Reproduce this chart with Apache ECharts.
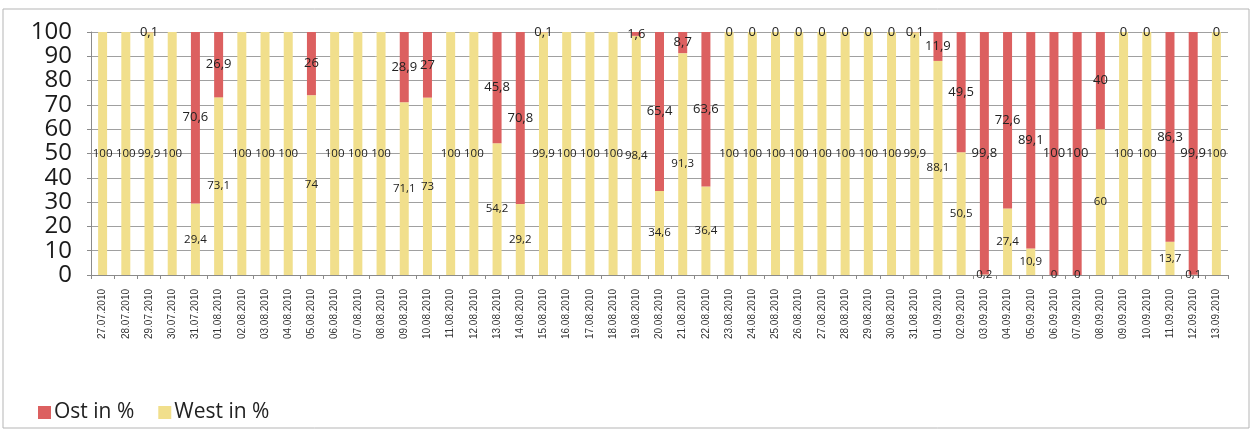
<!DOCTYPE html>
<html>
<head>
<meta charset="utf-8">
<script src="https://cdn.jsdelivr.net/npm/echarts@6/dist/echarts.min.js"></script>
<style>
  html, body { margin: 0; padding: 0; background: #fff; }
  #chart { width: 1258px; height: 440px; }
</style>
</head>
<body>
<div id="chart"></div>
<script>
// Tagesdaten 27.07.2010 – 13.09.2010
const dates = [
  '27.07.2010','28.07.2010','29.07.2010','30.07.2010','31.07.2010',
  '01.08.2010','02.08.2010','03.08.2010','04.08.2010','05.08.2010','06.08.2010','07.08.2010',
  '08.08.2010','09.08.2010','10.08.2010','11.08.2010','12.08.2010','13.08.2010','14.08.2010',
  '15.08.2010','16.08.2010','17.08.2010','18.08.2010','19.08.2010','20.08.2010','21.08.2010',
  '22.08.2010','23.08.2010','24.08.2010','25.08.2010','26.08.2010','27.08.2010','28.08.2010',
  '29.08.2010','30.08.2010','31.08.2010',
  '01.09.2010','02.09.2010','03.09.2010','04.09.2010','05.09.2010','06.09.2010','07.09.2010',
  '08.09.2010','09.09.2010','10.09.2010','11.09.2010','12.09.2010','13.09.2010'
];

// Anteil West in %
const westPct = [
  100, 100, 99.9, 100, 29.4,
  73.1, 100, 100, 100, 74, 100, 100,
  100, 71.1, 73, 100, 100, 54.2, 29.2,
  99.9, 100, 100, 100, 98.4, 34.6, 91.3,
  36.4, 100, 100, 100, 100, 100, 100,
  100, 100, 99.9,
  88.1, 50.5, 0.2, 27.4, 10.9, 0, 0,
  60, 100, 100, 13.7, 0.1, 100
];

// Anteil Ost in % (null = kein Wert)
const ostPct = [
  null, null, 0.1, null, 70.6,
  26.9, null, null, null, 26, null, null,
  null, 28.9, 27, null, null, 45.8, 70.8,
  0.1, null, null, null, 1.6, 65.4, 8.7,
  63.6, 0, 0, 0, 0, 0, 0,
  0, 0, 0.1,
  11.9, 49.5, 99.8, 72.6, 89.1, 100, 100,
  40, 0, 0, 86.3, 99.9, 0
];

const yTicks = { min: 0, max: 100, step: 10 };

const RED = '#dc6060';
const YELLOW = '#f1df8c';
const labelFont = '"Open Sans", "Noto Sans", sans-serif';

function deNum(p) {
  if (p.value == null) return '';
  return String(p.value).replace('.', ',');
}

const chart = echarts.init(document.getElementById('chart'), null, { renderer: 'canvas' });

chart.setOption({
  backgroundColor: '#ffffff',
  animation: false,
  graphic: [{
    type: 'rect',
    shape: { x: 3, y: 9, width: 1246, height: 419 },
    style: { fill: 'none', stroke: '#b5b5b5', lineWidth: 1 },
    silent: true
  }],
  grid: { left: 91, right: 30, top: 32, bottom: 165, containLabel: false },
  legend: {
    data: ['Ost in %', 'West in %'],
    left: 33,
    top: 397,
    itemWidth: 13,
    itemHeight: 13,
    itemGap: 24,
    icon: 'rect',
    textStyle: { fontSize: 21, color: '#222', fontFamily: labelFont, padding: [0, 0, 0, -2] }
  },
  xAxis: {
    type: 'category',
    data: dates,
    boundaryGap: true,
    axisLine: { lineStyle: { color: '#8a8a8a' } },
    axisTick: { show: true, alignWithLabel: false, length: 4, lineStyle: { color: '#8a8a8a' } },
    axisLabel: {
      interval: 0,
      rotate: 90,
      fontSize: 10,
      color: '#333',
      fontFamily: '"Liberation Sans", Arial, sans-serif',
      margin: 14
    }
  },
  yAxis: {
    type: 'value',
    min: yTicks.min,
    max: yTicks.max,
    interval: yTicks.step,
    axisLine: { show: true, lineStyle: { color: '#8a8a8a' } },
    axisTick: { show: true, length: 4, lineStyle: { color: '#8a8a8a' } },
    splitLine: { lineStyle: { color: '#a0a0a0', width: 1 } },
    axisLabel: {
      fontSize: 24,
      color: '#1a1a1a',
      fontFamily: labelFont,
      margin: 19
    }
  },
  series: [
    {
      name: 'West in %',
      type: 'bar',
      stack: 'anteil',
      data: westPct,
      barWidth: 9,
      itemStyle: { color: YELLOW },
      label: {
        show: true,
        position: 'inside',
        formatter: deNum,
        fontSize: 11.5,
        color: '#222',
        fontFamily: labelFont
      }
    },
    {
      name: 'Ost in %',
      type: 'bar',
      stack: 'anteil',
      data: ostPct,
      barWidth: 9,
      itemStyle: { color: RED },
      label: {
        show: true,
        position: 'inside',
        formatter: deNum,
        fontSize: 13,
        color: '#222',
        fontFamily: labelFont
      }
    }
  ]
});
</script>
</body>
</html>
